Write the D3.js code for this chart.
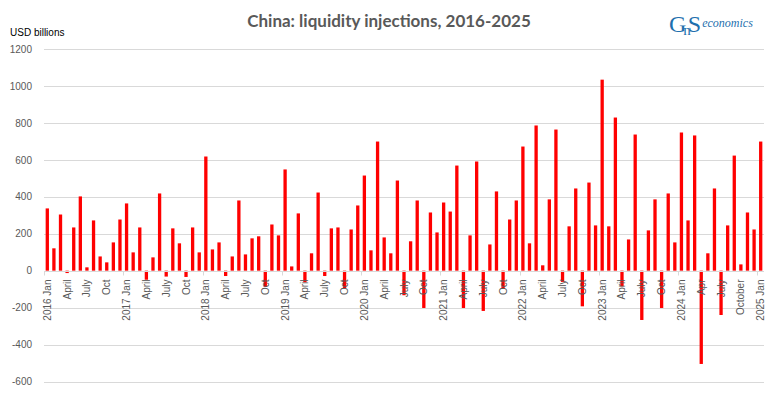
<!DOCTYPE html>
<html>
<head>
  <meta charset="utf-8">
  <title>China: liquidity injections, 2016-2025</title>
  <script src="https://cdn.jsdelivr.net/npm/d3@7"></script>
  <style>
    body { margin:0; background:#fff; }
    text { font-family: 'Liberation Sans', Arial, sans-serif; }
    .grid-line { stroke:#d9d9d9; stroke-width:1; }
    .tick-label { fill:#595959; font-size:10px; }
    .bar { fill:#ff0000; }
  </style>
</head>
<body>
<script>
  // monthly liquidity injections, USD billions, Jan 2016 .. Jan 2025
  var values = [
    337, 121, 304, -13, 234, 402, 18, 272, 77, 45, 153, 277,      // 2016
    364, 99, 234, -49, 72, 418, -32, 229, 148, -34, 234, 99,      // 2017
    618, 115, 153, -29, 77, 380, 88, 175, 186, -88, 250, 191,     // 2018
    548, 23, 310, -63, 94, 423, -29, 229, 234, -94, 223, 353,     // 2019
    515, 110, 699, 180, 94, 488, -133, 159, 380, -202, 315, 207,  // 2020
    369, 320, 569, -202, 191, 591, -218, 142, 429, -99, 277, 380, // 2021
    672, 148, 786, 29, 386, 764, -61, 240, 445, -193, 477, 245,   // 2022
    1034, 240, 829, -85, 169, 737, -267, 218, 386, -202, 418, 153,// 2023
    748, 272, 732, -505, 94, 445, -240, 245, 623, 34, 315, 223,   // 2024
    699                                                           // 2025
  ];

  var years = [2016, 2017, 2018, 2019, 2020, 2021, 2022, 2023, 2024, 2025];

  // category labels, one every three months
  var tickLabels = [
    "2016 Jan", "April", "July", "Oct",
    "2017 Jan", "April", "July", "Oct",
    "2018 Jan", "April", "July", "Oct",
    "2019 Jan", "April", "July", "Oct",
    "2020 Jan", "April", "July", "Oct",
    "2021 Jan", "April", "July", "Oct",
    "2022 Jan", "April", "July", "Oct",
    "2023 Jan", "April", "July", "Oct",
    "2024 Jan", "Apr", "July", "October",
    "2025 Jan"
  ];

  var yTicks = [-600, -400, -200, 0, 200, 400, 600, 800, 1000, 1200];

  var W = 778, H = 396;
  var plot = {left: 44, right: 764, top: 49, bottom: 381.5};

  var svg = d3.select("body").append("svg")
    .attr("width", W)
    .attr("height", H);

  var x = d3.scaleBand()
    .domain(d3.range(values.length))
    .range([plot.left, plot.right])
    .paddingInner(0.5)
    .paddingOuter(0.25);

  var y = d3.scaleLinear()
    .domain([-600, 1200])
    .range([plot.bottom, plot.top]);

  // gridlines
  svg.append("g").selectAll("line")
    .data(yTicks)
    .enter().append("line")
      .attr("class", "grid-line")
      .attr("x1", plot.left)
      .attr("x2", plot.right)
      .attr("y1", d => Math.round(y(d)) + 0.5)
      .attr("y2", d => Math.round(y(d)) + 0.5);

  // y axis labels
  var yAxis = d3.axisLeft(y)
    .tickValues(yTicks)
    .tickFormat(d => String(d))
    .tickSize(0)
    .tickPadding(0);
  var yG = svg.append("g")
    .attr("transform", "translate(32,0)")
    .call(yAxis);
  yG.select(".domain").remove();
  yG.selectAll("text")
    .attr("class", "tick-label")
    .attr("fill", null)
    .style("font-family", "'Liberation Sans', Arial, sans-serif");

  // bars
  svg.append("g").selectAll("rect")
    .data(values)
    .enter().append("rect")
      .attr("class", "bar")
      .attr("x", (d, i) => x(i))
      .attr("width", x.bandwidth())
      .attr("y", d => y(Math.max(0, d)))
      .attr("height", d => Math.abs(y(d) - y(0)));

  // zero line + year ticks
  var y0 = Math.round(y(0)) + 0.5;
  svg.append("line")
    .attr("x1", plot.left).attr("x2", plot.right)
    .attr("y1", y0).attr("y2", y0)
    .attr("stroke", "#d9d9d9");

  var step = x.step();
  svg.append("g").selectAll("line")
    .data(years)
    .enter().append("line")
      .attr("x1", (d, i) => Math.round(plot.left + i * 12 * step) + 0.5)
      .attr("x2", (d, i) => Math.round(plot.left + i * 12 * step) + 0.5)
      .attr("y1", y0)
      .attr("y2", y0 + 4)
      .attr("stroke", "#d9d9d9");

  // category labels (rotated)
  svg.append("g").selectAll("text")
    .data(tickLabels)
    .enter().append("text")
      .attr("class", "tick-label")
      .attr("text-anchor", "end")
      .attr("transform", (d, i) => {
        var cx = x(i * 3) + x.bandwidth() / 2;
        return "translate(" + (cx + 3.5) + "," + (y0 + 8) + ") rotate(-90)";
      })
      .text(d => d);

  // title
  svg.append("text")
    .attr("x", 389)
    .attr("y", 27)
    .attr("text-anchor", "middle")
    .style("font-family", "Lato, 'Open Sans', sans-serif")
    .style("font-weight", 700)
    .style("font-size", "17px")
    .style("fill", "#595959")
    .text("China: liquidity injections, 2016-2025");

  svg.append("text")
    .attr("x", 10)
    .attr("y", 36)
    .style("font-size", "10px")
    .style("fill", "#000")
    .text("USD billions");

  // logo
  var logo = svg.append("text")
    .attr("x", 669).attr("y", 32)
    .attr("fill", "#1f70ae")
    .style("font-family", "'Liberation Serif', serif");
  logo.append("tspan").style("font-size", "24px").text("G");
  logo.append("tspan").attr("dx", -3).attr("dy", 3).style("font-size", "15px").text("n");
  logo.append("tspan").attr("dx", -3).attr("dy", -3).style("font-size", "24px").text("S");
  logo.append("tspan").attr("dx", 1).attr("dy", -5)
    .style("font-style", "italic").style("font-size", "12px").text("economics");
</script>
</body>
</html>
